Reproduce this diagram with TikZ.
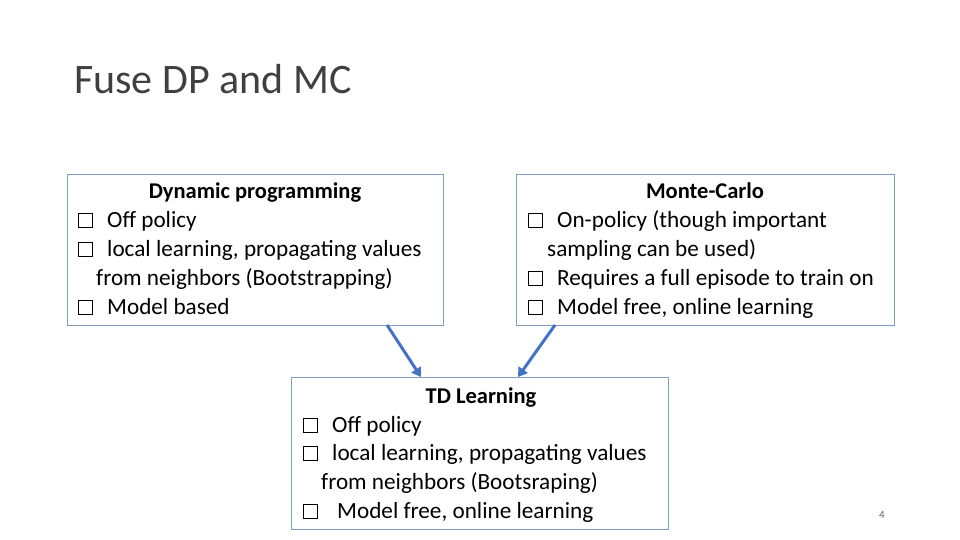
\documentclass[tikz,border=0pt]{standalone}
\usepackage{fontspec}
\setmainfont{Carlito}
\newfontfamily\symfont{DejaVu Sans}
\usetikzlibrary{arrows.meta}
\definecolor{boxc}{HTML}{7F9DC0}
\definecolor{arrc}{HTML}{4472C4}
\tikzset{
  box/.style={draw=boxc, line width=0.9pt},
  txt/.style={anchor=base west, inner sep=0pt, font=\fontsize{23.2}{26}\selectfont},
  hd/.style={anchor=base, inner sep=0pt, font=\fontsize{22.5}{26}\selectfont\bfseries},
  cbx/.style={draw=black, line width=1.1pt, minimum size=14pt, inner sep=0pt, anchor=south west},
  arr/.style={draw=arrc, line width=3pt, -{Triangle[length=9pt,width=11pt]}}
}
\begin{document}
\begin{tikzpicture}[x=1pt,y=-1pt]
\useasboundingbox (0,0) rectangle (960,540);
\node[anchor=base west, inner sep=0pt, font=\fontsize{42}{46}\selectfont, text=black!75] (title) at (74,94) {Fuse DP and MC};
% DP
\draw[box] (67,174) rectangle (443,325);
\node[hd] (dph) at (255,198) {Dynamic programming};
\node[cbx] (c1) at (78,228) {}; \node[txt] (dp1) at (107,227) {Off policy};
\node[cbx] (c2) at (78,257) {}; \node[txt] (dp2) at (107,256) {local learning, propagating values};
\node[txt] (dp3) at (96,285) {from neighbors (Bootstrapping)};
\node[cbx] (c3) at (78,315) {}; \node[txt] (dp4) at (107,314) {Model based};
% MC
\draw[box] (516,174) rectangle (894,325);
\node[hd] (mch) at (705,198) {Monte-Carlo};
\node[cbx] (c4) at (528,228) {}; \node[txt] (mc1) at (557,227) {On-policy (though important};
\node[txt] (mc2) at (547,256) {sampling can be used)};
\node[cbx] (c5) at (528,286) {}; \node[txt] (mc3) at (557,285) {Requires a full episode to train on};
\node[cbx] (c6) at (528,315) {}; \node[txt] (mc4) at (557,314) {Model free, online learning};
% TD
\draw[box] (291,377) rectangle (668,529);
\node[hd] (tdh) at (481,403) {TD Learning};
\node[cbx] (c7) at (303,433) {}; \node[txt] (td1) at (332,432) {Off policy};
\node[cbx] (c8) at (303,461) {}; \node[txt] (td2) at (332,460) {local learning, propagating values};
\node[txt] (td3) at (321,489) {from neighbors (Bootsraping)};
\node[cbx] (c9) at (303,519) {}; \node[txt] (td4) at (337,518) {Model free, online learning};
\coordinate (a1) at (387,325); \coordinate (b1) at (421,377);
\coordinate (a2) at (555,325); \coordinate (b2) at (518,377);
\draw[arr] (a1) -- (b1);
\draw[arr] (a2) -- (b2);
\node[anchor=base, inner sep=0pt, font=\fontsize{11}{12}\selectfont, text=black!60] (pg) at (882,518) {4};
\end{tikzpicture}
\end{document}
